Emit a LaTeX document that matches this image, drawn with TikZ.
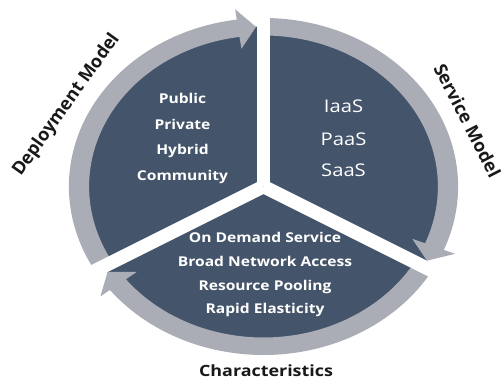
\documentclass[tikz,border=0pt]{standalone}
\usepackage{fontspec}
\setmainfont{Open Sans}
\usepackage{tikz}
\definecolor{slate}{HTML}{44546A}
\definecolor{ringgray}{HTML}{AAADB5}
\tikzset{
  ring/.style={fill=ringgray, draw=none},
  gap/.style={draw=white, line width=13.5pt, line cap=butt},
  item/.style={text=white, inner sep=0pt, anchor=base, xscale=1.155, transform shape,
    font=\fontsize{13.5}{16}\selectfont\bfseries},
  svc/.style={text=white, inner sep=0pt, anchor=base, xscale=1.155, transform shape,
    font=\fontsize{17.5}{20}\selectfont},
  lab/.style={text=black!90, inner sep=0pt, font=\fontsize{18}{21}\selectfont\bfseries},
}
\begin{document}
\begin{tikzpicture}[x=1pt, y=1pt]
    \useasboundingbox (0,0) rectangle (502,385);

    \begin{scope}[shift={(263.5,198.5)}, xscale=1.155]
        \coordinate (o) at (0,0);
        % dark disc under the three rings
        \fill[slate] (o) circle[radius=160];

        % Deployment Model ring, head at the top
        \fill[ring] (210:168.5) arc[start angle=210, end angle=97.9, radius=168.5]
            -- (97.9:179) -- (92.33:159.75) -- (97.9:139) -- (97.9:151)
            arc[start angle=97.9, end angle=210, radius=151] -- cycle;

        % Service Model ring, head at lower right
        \fill[ring] (90:168.5) arc[start angle=90, end angle=-22.1, radius=168.5]
            -- (-22.1:179) -- (-27.67:159.75) -- (-22.1:139) -- (-22.1:151)
            arc[start angle=-22.1, end angle=90, radius=151] -- cycle;

        % Characteristics ring, head at lower left
        \fill[ring] (-30:168.5) arc[start angle=-30, end angle=-142.1, radius=168.5]
            -- (-142.1:179) -- (-147.67:159.75) -- (-142.1:139) -- (-142.1:151)
            arc[start angle=-142.1, end angle=-30, radius=151] -- cycle;

        % white gaps
        \coordinate (gt) at (90:195);
        \coordinate (gl) at (210:195);
        \coordinate (gr) at (330:195);
        \draw[gap] (o) -- (gt);
        \draw[gap] (o) -- (gl);
        \draw[gap] (o) -- (gr);
    \end{scope}

    \node[item] (pub) at (182.5,281) {Public};
    \node[item] (priv) at (182.5,255.5) {Private};
    \node[item] (hyb) at (182.5,230) {Hybrid};
    \node[item] (comm) at (182.5,204.5) {Community};

    \node[svc] (iaas) at (343.5,272) {IaaS};
    \node[svc] (paas) at (343.5,239.5) {PaaS};
    \node[svc] (saas) at (343.5,208) {SaaS};

    \node[item] (ods) at (265,142.5) {On Demand Service};
    \node[item] (bna) at (265,118.5) {Broad Network Access};
    \node[item] (rp) at (265,95) {Resource Pooling};
    \node[item] (re) at (265,71.5) {Rapid Elasticity};

    \node[lab, rotate=54.4] (dep) at (66.5,280) {Deployment Model};
    \node[lab, rotate=-62.8] (serv) at (467.5,264.5) {Service Model};
    \node[lab, anchor=base, font=\fontsize{15.5}{18}\selectfont\bfseries, xscale=1.155, transform shape]
        (char) at (266,9) {Characteristics};
\end{tikzpicture}
\end{document}
